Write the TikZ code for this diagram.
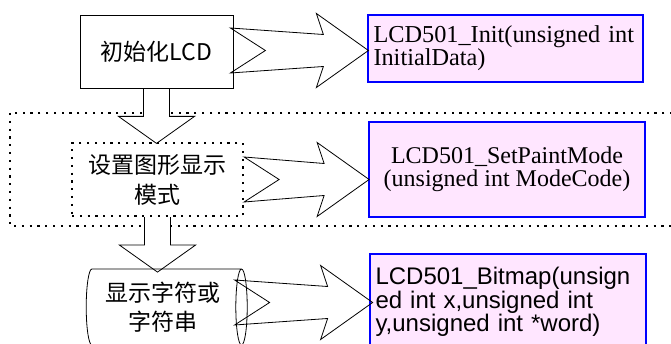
\documentclass[tikz,border=0pt]{standalone}
\usepackage{fontspec}
\setmainfont{Liberation Serif}
\newfontfamily\cjk{Noto Sans CJK SC}
\newfontfamily\arial{Liberation Sans}
\usetikzlibrary{shapes.geometric,calc,backgrounds}
\definecolor{fnpink}{RGB}{255,230,255}
\tikzset{
  funcbox/.style={draw=blue,fill=fnpink,line width=1.2pt,inner sep=5pt},
  stepbox/.style={line width=0.8pt,minimum width=#1,minimum height=73pt,align=center,
                  font=\cjk\fontsize{23}{30}\selectfont},
  dotline/.style={line width=2.2pt,dash pattern=on 2.2pt off 5.6pt},
  pics/fatright/.style={code={
     \draw[line width=0.8pt] (0,-22.5) -- (#1-45,-16) -- (#1-52,-37) -- (#1,0)
        -- (#1-52,37) -- (#1-45,16) -- (0,22.5) -- (35,0) -- cycle;}},
  pics/fatdown/.style={code={
     \draw[line width=0.8pt,fill=white] (-13,0) -- (-13,28) -- (-38,28) -- (0,55)
        -- (38,28) -- (13,28) -- (13,0);}}
}

\begin{document}
\begin{tikzpicture}[x=1pt,y=-1pt]
   \useasboundingbox (0,0) rectangle (671,344);
   \clip (0,0) rectangle (671,344);
 %
   \node[stepbox=153pt,draw] (init) at (156.5, 51.5) {初始化LCD};
   \node[stepbox=171pt,draw,dotline] (mode) at (157.5,179.5) {设置图形显示\\模式};
   \node[cylinder,draw,line width=0.8pt,minimum width=76pt,minimum height=161pt,aspect=0.2,
         align=center,font=\cjk\fontsize{23}{29}\selectfont] (chars) at (162.5,307) {显示字符或\\字符串};
 %
   \node[funcbox,minimum width=275pt,minimum height=67pt,text width=264pt,align=left,
         font=\fontsize{24.3}{22}\selectfont] (fninit) at (505.5, 48.5)
         {LCD501\_Init(unsigned int\\InitialData)};
   \node[funcbox,minimum width=276pt,minimum height=95pt,align=center,
         font=\fontsize{24}{23}\selectfont] (fnmode) at (507,169.5)
         {LCD501\_SetPaintMode\\(unsigned int ModeCode)};
   \node[funcbox,minimum width=276pt,minimum height=96pt,text width=265pt,align=left,
         font=\arial\fontsize{24}{23.5}\selectfont] (fnbits) at (508,302)
         {LCD501\_Bitmap(unsign\\ed int x,unsigned int\\y,unsigned int *word)};
 %
   \begin{scope}[on background layer]
      \draw[dotline] (10,113) rectangle (700,226);
      \pic at (init.south) {fatdown};
      \pic at (mode.south) {fatdown};
   \end{scope}
 %
   \pic at ($(init.east)+(-3,-1)$) {fatright=138};
   \pic at (mode.east) {fatright=125};
   \pic at ($(chars.east)+(-13,-4.5)$) {fatright=138};
\end{tikzpicture}
\end{document}
